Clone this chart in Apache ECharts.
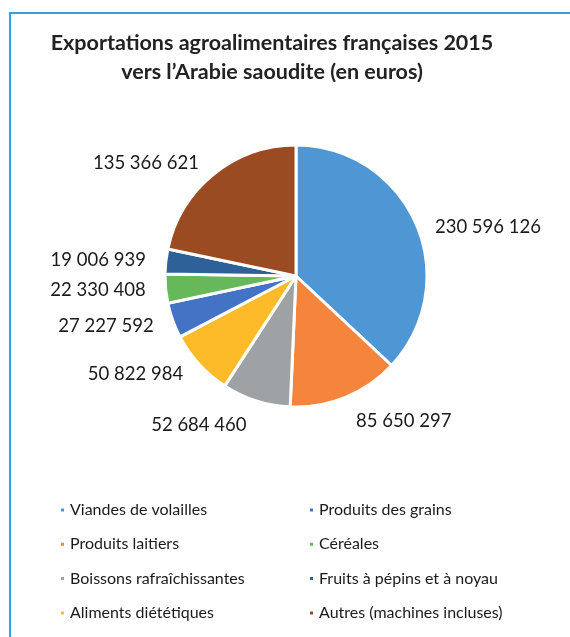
<!DOCTYPE html>
<html>
<head>
<meta charset="utf-8">
<script src="https://cdn.jsdelivr.net/npm/echarts@6/dist/echarts.min.js"></script>
<style>
  html, body { margin: 0; padding: 0; background: #fff; }
  #frame { position: absolute; left: 9px; top: 12px; width: 561px; height: 625px;
           border-top: 2px solid #3a9fe0; border-left: 2px solid #3a9fe0; box-sizing: border-box; }
  #main { position: absolute; left: 0; top: 0; width: 570px; height: 637px; }
</style>
</head>
<body>
<div id="frame"></div>
<div id="main"></div>
<script>
// données
var categories = ['Viandes de volailles', 'Produits laitiers', 'Boissons rafraîchissantes', 'Aliments diététiques',
  'Produits des grains', 'Céréales', 'Fruits à pépins et à noyau', 'Autres (machines incluses)']
var values = [230596126, 85650297, 52684460, 50822984, 27227592, 22330408, 19006939, 135366621]
var colors = ['#4f97d4', '#f5843c', '#9fa2a5', '#fdbb2a', '#4472c4', '#66b85a', '#2e6197', '#9a4b22']

// 230 596 126
function fmt(v) {
  return String(v).replace(/\B(?=(\d{3})+(?!\d))/g, ' ')
}

(function () {
  var myChart = echarts.init(document.getElementById('main'))
  var font = 'Lato, Roboto, sans-serif'
  var legendText = { color: '#1a1a1a', fontFamily: font, fontSize: 16, lineHeight: 20 }
  var option = {
    title: {
      text: 'Exportations agroalimentaires françaises 2015\nvers l’Arabie saoudite (en euros)',
      left: 267,
      top: 24,
      textAlign: 'center',
      textStyle: {
        color: '#222',
        fontFamily: font,
        fontWeight: 'bold',
        fontSize: 21.5,
        lineHeight: 29
      }
    },
    legend: [
      {
        orient: 'vertical',
        left: 54,
        top: 495,
        icon: 'rect',
        itemWidth: 5,
        itemHeight: 5,
        itemGap: 14.3,
        data: categories.slice(0, 4),
        textStyle: legendText
      },
      {
        orient: 'vertical',
        left: 303,
        top: 495,
        icon: 'rect',
        itemWidth: 5,
        itemHeight: 5,
        itemGap: 14.3,
        data: categories.slice(4),
        textStyle: legendText
      }
    ],
    series: [{
      type: 'pie',
      center: [296, 276],
      radius: 131,
      startAngle: 90,
      clockwise: true,
      avoidLabelOverlap: false,
      itemStyle: {
        borderColor: '#fff',
        borderWidth: 3
      },
      label: {
        show: true,
        position: 'outside',
        color: '#1a1a1a',
        fontFamily: font,
        fontSize: 18.5,
        formatter: function (p) { return fmt(p.value) }
      },
      labelLine: {
        show: false,
        length: 15,
        length2: 0
      },
      // les étiquettes à droite / en bas pendent sous leur point d'ancrage
      labelLayout: function (p) {
        return p.dataIndex < 3 ? { verticalAlign: 'top' } : {}
      },
      emphasis: { disabled: true },
      data: categories.map(function (c, i) {
        return { name: c, value: values[i], itemStyle: { color: colors[i] } }
      })
    }]
  }
  myChart.setOption(option)
})();
</script>
</body>
</html>
